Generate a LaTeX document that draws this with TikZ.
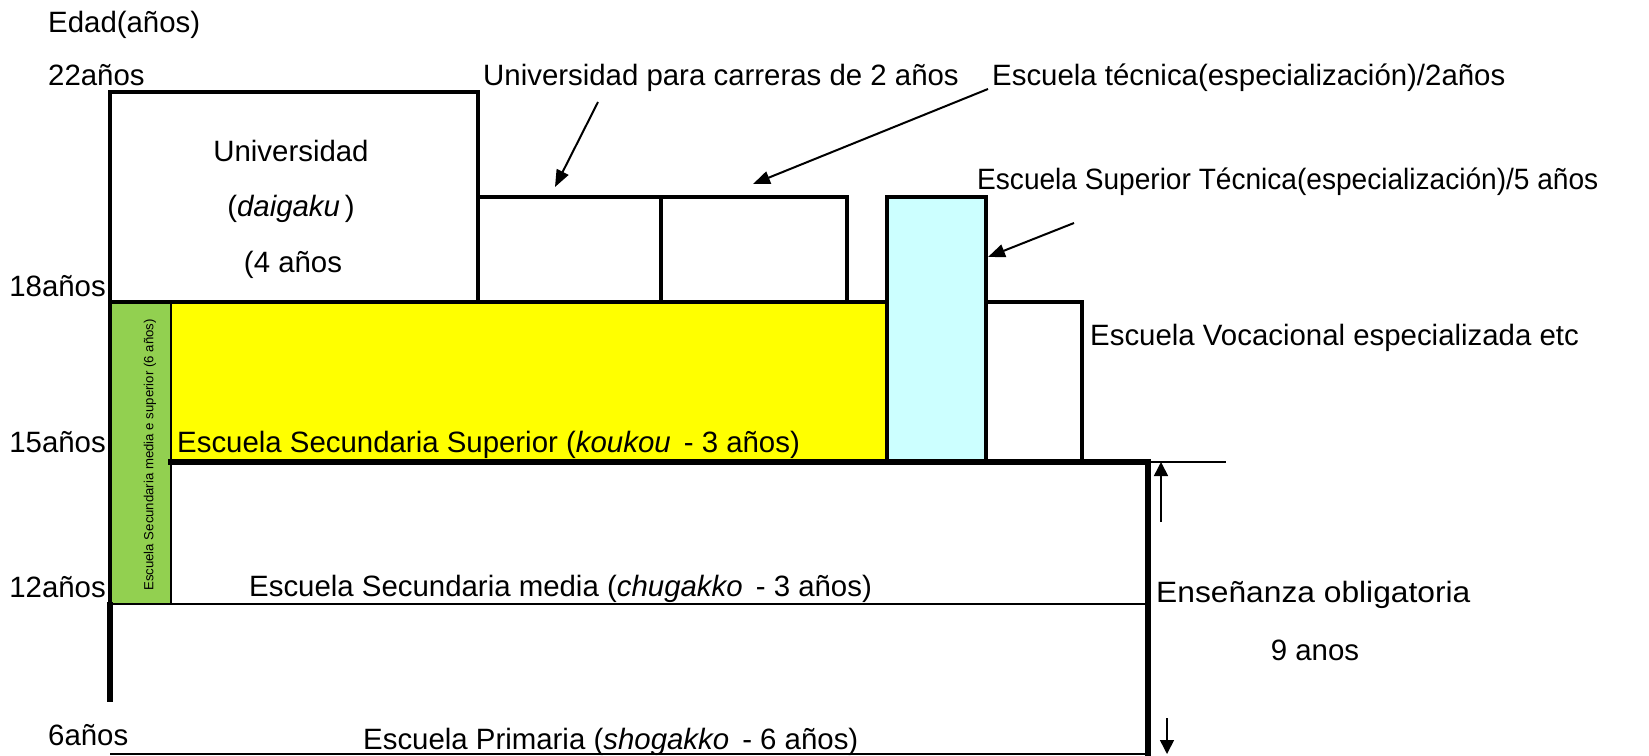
\documentclass[tikz,border=0pt]{standalone}
\usepackage{fontspec}
\setmainfont{Liberation Sans}
\usetikzlibrary{arrows.meta}
\definecolor{gbox}{HTML}{92D050}
\definecolor{ybox}{HTML}{FFFF00}
\definecolor{cbox}{HTML}{CCFFFF}
\begin{document}
\begin{tikzpicture}[x=1pt,y=-1pt,
  lbl/.style={font=\fontsize{29.4}{32}\selectfont, inner sep=0pt},
  small/.style={font=\fontsize{13.2}{15}\selectfont, inner sep=0pt},
  reg/.style={line width=3.5pt, line cap=rect},
  thin2/.style={line width=2.2pt},
  heavy/.style={line width=6pt, line cap=rect},
  pointer/.style={line width=2pt, -{Triangle[length=17pt,width=13pt]}},
  spanarrow/.style={line width=1.6pt, -{Triangle[length=14pt,width=14pt]}}]
\useasboundingbox (0,0) rectangle (1649,755);

% fills
\fill[gbox] (110,302) rectangle (171,604);
\fill[ybox] (171,302) rectangle (887,462);
\fill[cbox] (887,197) rectangle (986,462);

% university box
\draw[reg] (110,302) -- (110,92) -- (478,92) -- (478,302);
% short college boxes
\draw[reg] (478,197) -- (847,197) -- (847,302);
\draw[reg] (661,197) -- (661,302);
% technical college
\draw[reg] (887,462) -- (887,197) -- (986,197) -- (986,462);
% top of upper secondary
\draw[reg] (110,302) -- (887,302);
% vocational
\draw[reg] (986,302) -- (1082,302) -- (1082,462);
% green column edges
\draw[reg] (110,302) -- (110,604);
\draw[line width=2.5pt] (171,302) -- (171,604);
% compulsory block
\draw[thin2] (1148,462) -- (1226,462);
\draw[heavy] (171,462) -- (1148,462) -- (1148,754);
\draw[line width=2.5pt] (110,604) -- (1148,604);
\draw[heavy, line cap=butt] (110,602) -- (110,702);
\draw[thin2] (110,754) -- (1148,754);

% age labels
\node[lbl, anchor=base west] (edad) at (48,32) {Edad(años)};
\node[lbl, anchor=base west] (a22) at (48,85) {22años};
\node[lbl, anchor=base east] (a18) at (106,296) {18años};
\node[lbl, anchor=base east] (a15) at (106,452) {15años};
\node[lbl, anchor=base east] (a12) at (106,597) {12años};
\node[lbl, anchor=base west] (a6) at (48,745) {6años};

% box labels
\node[lbl, anchor=base] (uni1) at (291,161) {Universidad};
\node[lbl, anchor=base] (uni2) at (291,216) {(\textit{daigaku}\,)};
\node[lbl, anchor=base] (uni3) at (293,272) {(4 años};
\node[lbl, anchor=base west] (koukou) at (177,452) {Escuela Secundaria Superior (\textit{koukou}\,\ - 3 años)};
\node[lbl, anchor=base west] (chugakko) at (249,596) {Escuela Secundaria media (\textit{chugakko}\,\ - 3 años)};
\node[lbl, anchor=base west] (shogakko) at (363,749) {Escuela Primaria (\textit{shogakko}\,\ - 6 años)};
\node[small, rotate=90] (green) at (150,455) {Escuela Secundaria media e superior (6 años)};

% callout labels
\node[lbl, anchor=base west] (junior) at (483,85) {Universidad para carreras de 2 años};
\node[lbl, anchor=base west] (tecnica) at (992,85) {Escuela técnica(especialización)/2años};
\node[lbl, anchor=base west, xscale=0.955] (superior) at (977,189) {Escuela Superior Técnica(especialización)/5 años};
\node[lbl, anchor=base west] (vocacional) at (1090,345) {Escuela Vocacional especializada etc};
\node[lbl, anchor=base west, xscale=1.08] (obl) at (1156,602) {Enseñanza obligatoria};
\node[lbl, anchor=base] (nueve) at (1315,660) {9 anos};

% arrows
\coordinate (j1) at (598,102);
\coordinate (j2) at (555,187);
\coordinate (t1) at (988,89);
\coordinate (t2) at (753,184);
\coordinate (s1) at (1074,223);
\coordinate (s2) at (988,257);
\coordinate (u1) at (1161,522);
\coordinate (u2) at (1161,462);
\coordinate (d1) at (1167,718);
\coordinate (d2) at (1167,754);
\draw[pointer] (j1) -- (j2);
\draw[pointer] (t1) -- (t2);
\draw[pointer] (s1) -- (s2);
\draw[spanarrow] (u1) -- (u2);
\draw[spanarrow] (d1) -- (d2);
\end{tikzpicture}
\end{document}
